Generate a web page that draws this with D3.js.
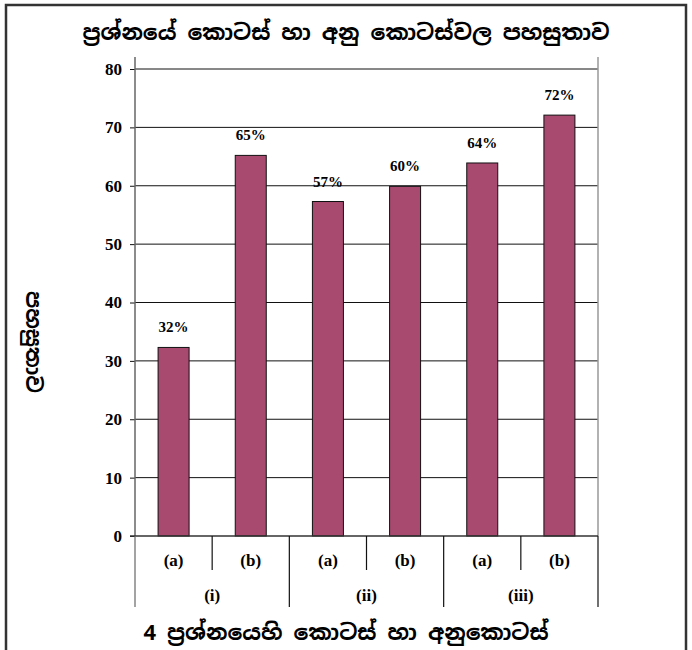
<!DOCTYPE html>
<html><head><meta charset="utf-8">
<script src="https://cdn.jsdelivr.net/npm/d3@7"></script>
<style>body{margin:0;background:#fff;} svg{display:block;} .num{font-family:"Liberation Serif","Times New Roman","DejaVu Serif",serif;font-weight:bold;}</style>
</head><body>
<svg id="c" width="692" height="650"></svg>
<script>
const subParts = ["(a)","(b)","(a)","(b)","(a)","(b)"];
const groups = ["(i)","(ii)","(iii)"];
const values = [32.3, 65.2, 57.3, 59.9, 63.9, 72.1];
const valueLabels = ["32%","65%","57%","60%","64%","72%"];
const yTicks = [0,10,20,30,40,50,60,70,80];
const title = "ප්‍රශ්නයේ කොටස් හා අනු කොටස්වල පහසුතාව";
const xTitle = "4 ප්‍රශ්නයෙහි කොටස් හා අනුකොටස්";
const yTitle = "පහසුතාව";

const svg = d3.select("#c");
const L = 135, R = 598, T = 57, B = 536;
const sinhala = "'Noto Sans Sinhala','Iskoola Pota','Noto Sans',sans-serif";

// frame
svg.append("rect").attr("x",6).attr("y",5).attr("width",680).attr("height",660)
  .attr("fill","none").attr("stroke","#333").attr("stroke-width",2.5);

const x = d3.scaleBand().domain(d3.range(values.length)).range([L,R]);
const y = d3.scaleLinear().domain([0,80]).range([B,69]);

// grid
svg.append("g").selectAll("line").data(yTicks.filter(d=>d>0)).join("line")
  .attr("x1",L).attr("x2",R).attr("y1",d=>y(d)).attr("y2",d=>y(d))
  .attr("stroke","#111").attr("stroke-width",1);

// plot right edge
svg.append("line").attr("x1",R).attr("x2",R).attr("y1",T).attr("y2",B)
  .attr("stroke","#999").attr("stroke-width",1.5);

// y axis
const yAxis = d3.axisLeft(y).tickValues(yTicks).tickSize(5).tickPadding(8);
const ga = svg.append("g").attr("transform",`translate(${L},0)`).call(yAxis);
ga.attr("font-family",null).attr("font-size",null);
ga.select(".domain").remove();
ga.selectAll(".tick line").attr("stroke","#111");
ga.selectAll(".tick text").attr("class","num").style("font-size","17px").attr("fill","#000");
svg.append("line").attr("x1",L).attr("x2",L).attr("y1",T).attr("y2",B)
  .attr("stroke","#666").attr("stroke-width",1.5);

// bars
const bw = 31;
svg.append("g").selectAll("rect").data(values).join("rect")
  .attr("x",(d,i)=>x(i)+x.bandwidth()/2-bw/2).attr("width",bw)
  .attr("y",d=>y(d)).attr("height",d=>B-y(d))
  .attr("fill","#A8496F").attr("stroke","#111").attr("stroke-width",1);

// value labels
svg.append("g").selectAll("text").data(values).join("text")
  .attr("class","num")
  .attr("x",(d,i)=>x(i)+x.bandwidth()/2).attr("y",d=>y(d)-15)
  .attr("text-anchor","middle").style("font-size","15px")
  .attr("fill","#000").text((d,i)=>valueLabels[i]);

// x axis baseline
svg.append("line").attr("x1",L-5).attr("x2",R).attr("y1",B).attr("y2",B)
  .attr("stroke","#333").attr("stroke-width",1.5);

// separators
const xs = d3.range(values.length+1).map(i => i<values.length ? x(i) : R);
svg.append("g").selectAll("line").data(xs).join("line")
  .attr("x1",d=>d).attr("x2",d=>d).attr("y1",B)
  .attr("y2",(d,i)=> i%2===0 ? 607 : 570)
  .attr("stroke",(d,i)=> (i===0 ? "#666" : "#111")).attr("stroke-width",1.2);

// sub labels
svg.append("g").selectAll("text").data(subParts).join("text")
  .attr("class","num")
  .attr("x",(d,i)=>x(i)+x.bandwidth()/2).attr("y",566)
  .attr("text-anchor","middle").style("font-size","17px")
  .attr("fill","#000").text(d=>d);
svg.append("g").selectAll("text").data(groups).join("text")
  .attr("class","num")
  .attr("x",(d,i)=>(x(2*i)+ (2*i+2<values.length ? x(2*i+2) : R))/2).attr("y",601)
  .attr("text-anchor","middle").style("font-size","17px")
  .attr("fill","#000").text(d=>d);

// titles
svg.append("text").attr("x",346).attr("y",40).attr("text-anchor","middle")
  .attr("font-family",sinhala).attr("font-weight","bold").attr("font-size",22)
  .attr("fill","#000").text(title);
svg.append("text").attr("x",346).attr("y",640).attr("text-anchor","middle")
  .attr("font-family",sinhala).attr("font-weight","bold").attr("font-size",22)
  .attr("fill","#000").text(xTitle);
svg.append("text").attr("transform","translate(26,342) rotate(90)").attr("text-anchor","middle")
  .attr("font-family",sinhala).attr("font-weight","bold").attr("font-size",21)
  .attr("fill","#000").text(yTitle);
</script>
</body></html>
